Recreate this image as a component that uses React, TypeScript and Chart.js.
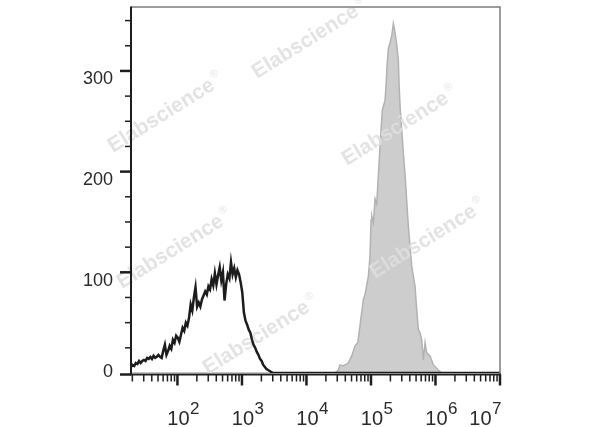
import { useEffect, useRef } from "react";
import { Chart, registerables } from "chart.js";

Chart.register(...registerables);

// ---- data ----
const X_MIN_EXP = 1.28;
const X_MAX_EXP = 7;
const Y_MAX = 363.5;

// unstained control (black outline), x as log10 of fluorescence
const blackExp = [1.28,1.305,1.33,1.355,1.38,1.405,1.43,1.455,1.48,1.505,1.53,1.555,1.58,1.605,1.63,1.655,1.68,1.705,1.73,1.755,1.78,1.805,1.83,1.855,1.88,1.905,1.93,1.955,1.98,2.005,2.03,2.055,2.08,2.105,2.13,2.155,2.18,2.205,2.23,2.255,2.28,2.305,2.33,2.355,2.38,2.405,2.43,2.455,2.48,2.505,2.53,2.555,2.58,2.605,2.63,2.655,2.68,2.705,2.73,2.755,2.78,2.805,2.83,2.855,2.88,2.905,2.93,2.955,2.98,3.005,3.03,3.055,3.08,3.105,3.13,3.155,3.18,3.205,3.23,3.255,3.28,3.305,3.33,3.355,3.38,3.405,3.43,3.455,3.48,3.6,7.0];
const blackCount = [6,8,7,10,9,12,10,12,13,12,15,14,16,14,17,15,16,18,16,15,22,28,18,22,27,24,33,30,37,35,31,38,45,42,50,47,55,68,62,75,85,66,70,66,73,77,81,78,86,83,93,87,99,88,97,105,92,100,72,88,98,94,110,98,104,95,102,98,90,80,60,52,48,43,40,33,28,25,21,18,14,12,8,6,4,3,2,1,0,0,0];

// stained sample (grey filled)
const grayExp = [1.28,4.44,4.494,4.52,4.571,4.649,4.702,4.753,4.795,4.83,4.882,4.908,4.959,4.985,5.001,5.012,5.037,5.063,5.089,5.125,5.156,5.176,5.218,5.233,5.249,5.269,5.296,5.322,5.337,5.347,5.373,5.399,5.424,5.435,5.451,5.477,5.502,5.528,5.554,5.579,5.632,5.683,5.709,5.734,5.761,5.786,5.812,5.838,5.864,5.916,5.967,6.044,6.097,7.0];
const grayCount = [0,0,3,8,7,10,17,27,30,47,73,78,96,116,152,156,149,173,168,208,241,261,271,285,305,322,328,335,342,347,338,326,311,288,265,241,218,197,171,146,106,86,63,43,40,33,13,30,20,17,8,3,0,0];

// axis ticks
const yMajorTicks = [0, 100, 200, 300];
const yMinorTicks = [25, 50, 75, 125, 150, 175, 225, 250, 275, 325, 350];
const xDecades = [2, 3, 4, 5, 6, 7];
const xMinorMultipliers = [2, 3, 4, 5, 6, 7, 8, 9];
const xMinorDecades = [1, 2, 3, 4, 5, 6];

// watermark
const WATERMARK = "Elabscience";
const watermarkSpots = [
  [113, 153], [257, 79], [347, 166], [375, 279], [122, 289], [208, 375],
];

const FONT = "'Liberation Sans', Arial, Helvetica, sans-serif";

function drawWatermarks(ctx: CanvasRenderingContext2D) {
  ctx.save();
  ctx.fillStyle = "rgba(222,222,222,0.85)";
  for (const [x, y] of watermarkSpots) {
    ctx.save();
    ctx.translate(x, y);
    ctx.rotate((-32 * Math.PI) / 180);
    ctx.font = `bold 21px ${FONT}`;
    ctx.textBaseline = "alphabetic";
    ctx.textAlign = "left";
    ctx.fillText(WATERMARK, 0, 0);
    const w = ctx.measureText(WATERMARK).width;
    ctx.font = `11px ${FONT}`;
    ctx.fillText("®", w + 2, -10);
    ctx.restore();
  }
  ctx.restore();
}

const flowAxes = {
  id: "flowAxes",
  beforeDatasetDraw(chart: any, args: any) {
    if (args.index === 0) drawWatermarks(chart.ctx);
  },
  afterDraw(chart: any) {
    const { ctx, chartArea: a } = chart;
    const xs = chart.scales.x;
    const ys = chart.scales.y;
    ctx.save();
    // top/right frame
    ctx.strokeStyle = "#7c7c7c";
    ctx.lineWidth = 1.5;
    ctx.beginPath();
    ctx.moveTo(a.left, a.top);
    ctx.lineTo(a.right, a.top);
    ctx.lineTo(a.right, a.bottom + 1);
    ctx.stroke();
    // left & bottom axes
    ctx.strokeStyle = "#1e1e1e";
    ctx.lineWidth = 2;
    const by = a.bottom + 1.5;
    ctx.beginPath();
    ctx.moveTo(a.left, a.top - 0.5);
    ctx.lineTo(a.left, by);
    ctx.lineTo(a.right + 1, by);
    ctx.stroke();

    // y ticks
    ctx.lineCap = "butt";
    for (const v of yMinorTicks) {
      const py = ys.getPixelForValue(v);
      ctx.lineWidth = 1.5;
      ctx.beginPath();
      ctx.moveTo(a.left - 6, py);
      ctx.lineTo(a.left, py);
      ctx.stroke();
    }
    ctx.font = `18px ${FONT}`;
    ctx.fillStyle = "#2a2a2a";
    ctx.textAlign = "right";
    ctx.textBaseline = "alphabetic";
    for (const v of yMajorTicks) {
      const py = v === 0 ? by : ys.getPixelForValue(v);
      ctx.lineWidth = 2.5;
      ctx.beginPath();
      ctx.moveTo(a.left - 11, py);
      ctx.lineTo(a.left, py);
      ctx.stroke();
      const cy = v === 0 ? py - 4 : py + 7;
      ctx.fillText(String(v), 113, cy + 6.4);
    }

    // x ticks
    for (const d of xMinorDecades) {
      for (const m of xMinorMultipliers) {
        const val = m * Math.pow(10, d);
        if (val < xs.min || val > xs.max) continue;
        const px = xs.getPixelForValue(val);
        ctx.lineWidth = 1.5;
        ctx.beginPath();
        ctx.moveTo(px, by);
        ctx.lineTo(px, by + 7);
        ctx.stroke();
      }
    }
    for (const d of xDecades) {
      const px = xs.getPixelForValue(Math.pow(10, d));
      ctx.lineWidth = 2.5;
      ctx.beginPath();
      ctx.moveTo(px, by);
      ctx.lineTo(px, by + 11);
      ctx.stroke();

      ctx.font = `20px ${FONT}`;
      const baseW = ctx.measureText("10").width;
      ctx.font = `17px ${FONT}`;
      const expW = ctx.measureText(String(d)).width;
      let left = px + 1 - baseW / 2;
      if (left + baseW + expW > a.right + 2) left = a.right + 1 - baseW - expW;
      ctx.textAlign = "left";
      ctx.font = `20px ${FONT}`;
      ctx.fillText("10", left, 425);
      ctx.font = `17px ${FONT}`;
      ctx.fillText(String(d), left + baseW + 0.5, 414);
    }
    ctx.restore();
  },
};

export default function App() {
  const ref = useRef<HTMLCanvasElement>(null);
  useEffect(() => {
    const blackData = blackExp.map((e, i) => ({ x: Math.pow(10, e), y: blackCount[i] }));
    const grayData = grayExp.map((e, i) => ({ x: Math.pow(10, e), y: grayCount[i] }));
    const chart = new Chart(ref.current as HTMLCanvasElement, {
      type: "line",
      data: {
        datasets: [
          {
            label: "Control",
            data: blackData,
            borderColor: "#1c1c1c",
            borderWidth: 2.5,
            pointRadius: 0,
            fill: false,
            tension: 0,
            order: 0,
          },
          {
            label: "Stained",
            data: grayData,
            borderColor: "#b2b2b2",
            backgroundColor: "#cdcdcd",
            borderWidth: 1.5,
            pointRadius: 0,
            fill: "origin",
            tension: 0,
            order: 1,
          },
        ],
      },
      options: {
        responsive: false,
        devicePixelRatio: 1,
        animation: false,
        layout: { padding: { left: 131, top: 7, right: 100, bottom: 54 } },
        plugins: { legend: { display: false }, tooltip: { enabled: false } },
        scales: {
          x: { type: "logarithmic", min: Math.pow(10, X_MIN_EXP), max: Math.pow(10, X_MAX_EXP), display: false },
          y: { type: "linear", min: 0, max: Y_MAX, display: false },
        },
      },
      plugins: [flowAxes],
    });
    return () => chart.destroy();
  }, []);
  return (
    <div style={{ position: "absolute", left: 0, top: 0, width: 600, height: 427, background: "#fff" }}>
      <canvas ref={ref} width={600} height={427} style={{ display: "block", width: 600, height: 427 }} />
    </div>
  );
}
